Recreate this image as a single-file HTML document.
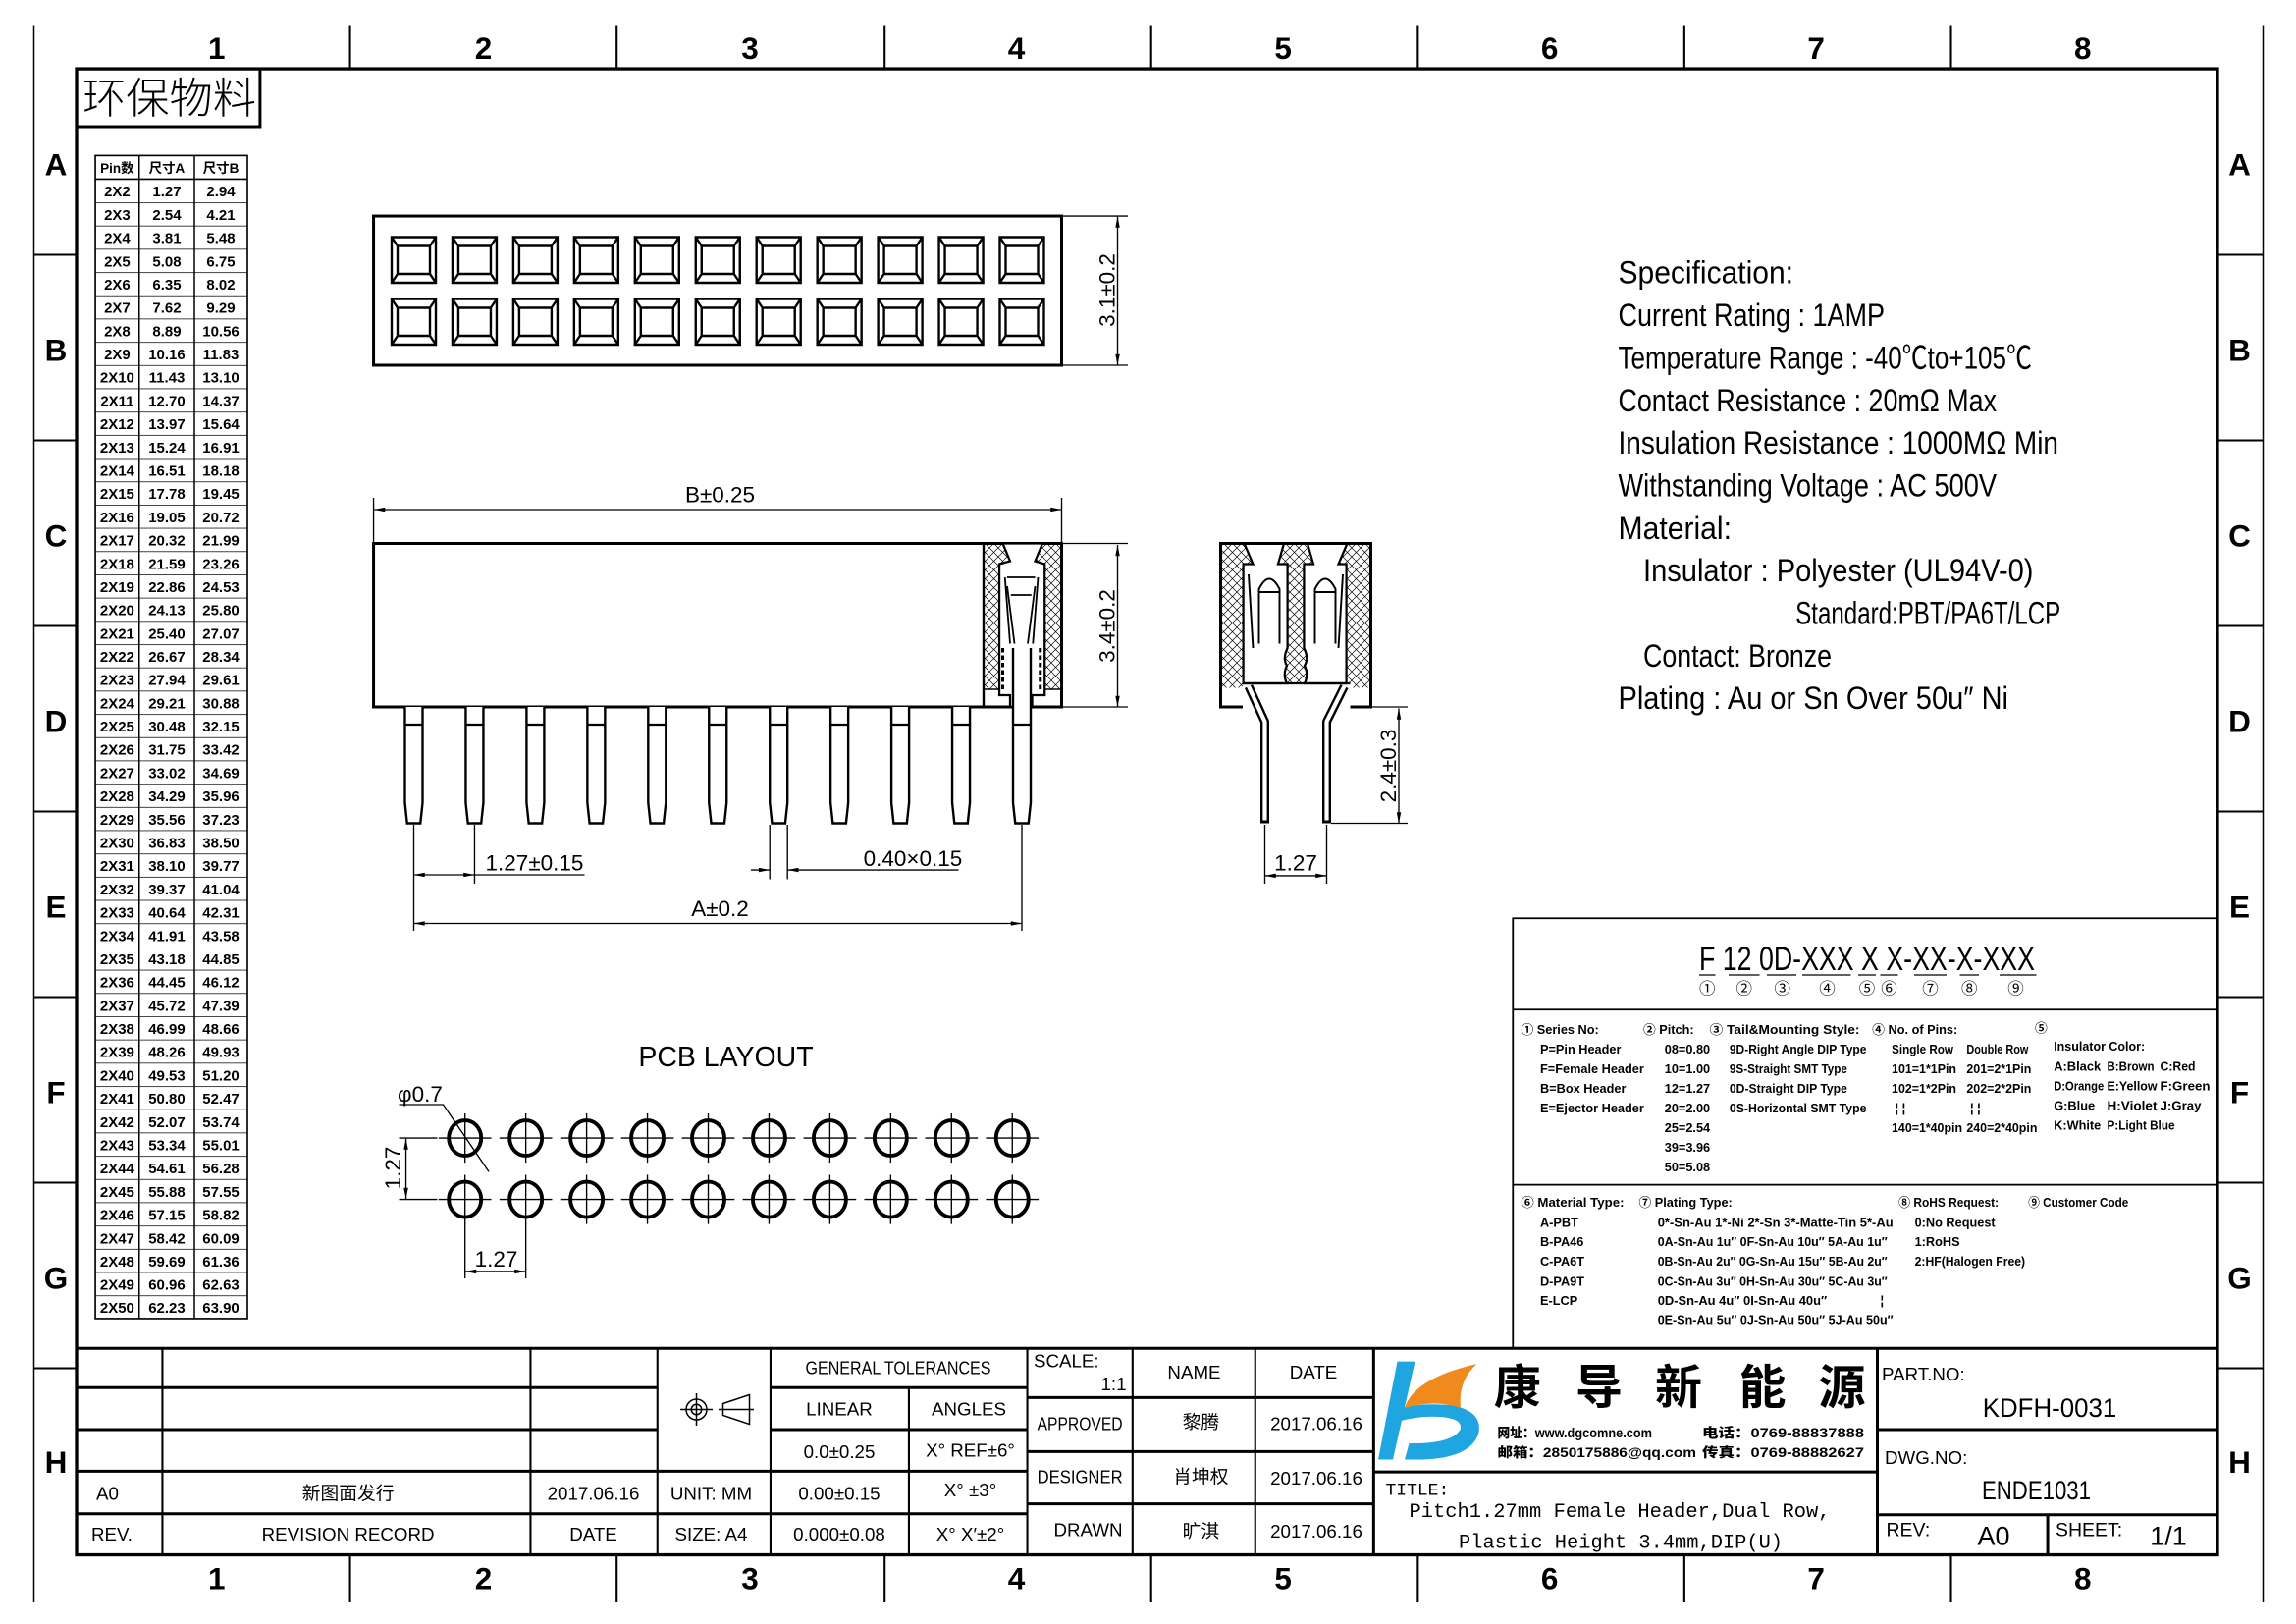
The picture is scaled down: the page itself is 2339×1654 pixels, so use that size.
<!DOCTYPE html>
<html><head><meta charset="utf-8">
<style>
html,body{margin:0;padding:0;background:#fff;}
svg{display:block;}
text{font-family:"Liberation Sans Narrow","Liberation Sans","Noto Sans CJK SC",sans-serif;fill:#000;}
.m{font-family:"Liberation Mono","Noto Sans CJK SC",monospace;}
</style></head><body>
<svg width="2339" height="1654" viewBox="0 0 1559.33 1102.67" xmlns="http://www.w3.org/2000/svg">
<defs>
<pattern id="h" width="6" height="6" patternUnits="userSpaceOnUse"><path d="M0 0L6 6M6 0L0 6" stroke="#000" stroke-width="0.45"/></pattern>
<pattern id="rows" x="0" y="121.6" width="200" height="15.79" patternUnits="userSpaceOnUse"><line x1="0" y1="0" x2="200" y2="0" stroke="#000" stroke-width="1"/></pattern>
<marker id="ar" viewBox="0 0 10 4" refX="10" refY="2" markerWidth="8" markerHeight="3" orient="auto-start-reverse" markerUnits="userSpaceOnUse"><path d="M0 0L10 2L0 4z" fill="#000"/></marker>
</defs>
<rect width="1559.33" height="1102.67" fill="#fff"/>

<rect x="52" y="46.7" width="1454" height="1009" fill="none" stroke="#000" stroke-width="2.2"/>
<line x1="23" y1="17" x2="23" y2="1088" stroke="#000" stroke-width="1"/>
<line x1="1537" y1="17" x2="1537" y2="1088" stroke="#000" stroke-width="1"/>
<g stroke="#000" stroke-width="1.4">
<line x1="237.7" y1="17" x2="237.7" y2="46.7"/><line x1="418.8" y1="17" x2="418.8" y2="46.7"/><line x1="600.8" y1="17" x2="600.8" y2="46.7"/><line x1="781.8" y1="17" x2="781.8" y2="46.7"/><line x1="962.9" y1="17" x2="962.9" y2="46.7"/><line x1="1143.9" y1="17" x2="1143.9" y2="46.7"/><line x1="1325" y1="17" x2="1325" y2="46.7"/>
<line x1="237.7" y1="1056" x2="237.7" y2="1088"/><line x1="418.8" y1="1056" x2="418.8" y2="1088"/><line x1="600.8" y1="1056" x2="600.8" y2="1088"/><line x1="781.8" y1="1056" x2="781.8" y2="1088"/><line x1="962.9" y1="1056" x2="962.9" y2="1088"/><line x1="1143.9" y1="1056" x2="1143.9" y2="1088"/><line x1="1325" y1="1056" x2="1325" y2="1088"/>
<line x1="23" y1="173" x2="52" y2="173"/><line x1="23" y1="299" x2="52" y2="299"/><line x1="23" y1="425" x2="52" y2="425"/><line x1="23" y1="551" x2="52" y2="551"/><line x1="23" y1="677" x2="52" y2="677"/><line x1="23" y1="803" x2="52" y2="803"/><line x1="23" y1="929" x2="52" y2="929"/>
<line x1="1506" y1="173" x2="1537" y2="173"/><line x1="1506" y1="299" x2="1537" y2="299"/><line x1="1506" y1="425" x2="1537" y2="425"/><line x1="1506" y1="551" x2="1537" y2="551"/><line x1="1506" y1="677" x2="1537" y2="677"/><line x1="1506" y1="803" x2="1537" y2="803"/><line x1="1506" y1="929" x2="1537" y2="929"/>
</g>
<g font-size="21" font-weight="bold" style="text-anchor:middle">
<text x="147.2" y="40">1</text><text x="328.3" y="40">2</text><text x="509.3" y="40">3</text><text x="690.3" y="40">4</text><text x="871.4" y="40">5</text><text x="1052.4" y="40">6</text><text x="1233.4" y="40">7</text><text x="1414.5" y="40">8</text>
<text x="147.2" y="1079">1</text><text x="328.3" y="1079">2</text><text x="509.3" y="1079">3</text><text x="690.3" y="1079">4</text><text x="871.4" y="1079">5</text><text x="1052.4" y="1079">6</text><text x="1233.4" y="1079">7</text><text x="1414.5" y="1079">8</text>
<text x="38" y="119">A</text><text x="38" y="245">B</text><text x="38" y="371">C</text><text x="38" y="497">D</text><text x="38" y="623">E</text><text x="38" y="749">F</text><text x="38" y="875">G</text><text x="38" y="1000">H</text>
<text x="1521" y="119">A</text><text x="1521" y="245">B</text><text x="1521" y="371">C</text><text x="1521" y="497">D</text><text x="1521" y="623">E</text><text x="1521" y="749">F</text><text x="1521" y="875">G</text><text x="1521" y="1000">H</text>
</g>

<rect x="52" y="46.7" width="124.6" height="39.3" fill="none" stroke="#000" stroke-width="2"/>
<text x="56" y="77" font-size="29" font-family="'Noto Sans CJK SC',sans-serif" font-weight="300" textLength="118" lengthAdjust="spacingAndGlyphs">环保物料</text>

<rect x="64.7" y="121.6" width="103.3" height="773.7" fill="url(#rows)"/>
<rect x="64.7" y="105.6" width="103.3" height="789.7" fill="none" stroke="#000" stroke-width="1.1"/>
<line x1="94.5" y1="105.6" x2="94.5" y2="895.3" stroke="#000"/>
<line x1="132" y1="105.6" x2="132" y2="895.3" stroke="#000"/>
<line x1="64.7" y1="121.6" x2="168" y2="121.6" stroke="#000"/>
<g font-size="10" style="text-anchor:middle" font-weight="bold">
<text x="79.6" y="117.5" font-size="9">Pin数</text><text x="113.3" y="117.5" font-size="9">尺寸A</text><text x="150" y="117.5" font-size="9">尺寸B</text>
<text x="79.6" y="133.5">2X2</text><text x="113.3" y="133.5">1.27</text><text x="150" y="133.5">2.94</text>
<text x="79.6" y="149.3">2X3</text><text x="113.3" y="149.3">2.54</text><text x="150" y="149.3">4.21</text>
<text x="79.6" y="165.1">2X4</text><text x="113.3" y="165.1">3.81</text><text x="150" y="165.1">5.48</text>
<text x="79.6" y="180.9">2X5</text><text x="113.3" y="180.9">5.08</text><text x="150" y="180.9">6.75</text>
<text x="79.6" y="196.7">2X6</text><text x="113.3" y="196.7">6.35</text><text x="150" y="196.7">8.02</text>
<text x="79.6" y="212.5">2X7</text><text x="113.3" y="212.5">7.62</text><text x="150" y="212.5">9.29</text>
<text x="79.6" y="228.2">2X8</text><text x="113.3" y="228.2">8.89</text><text x="150" y="228.2">10.56</text>
<text x="79.6" y="244.0">2X9</text><text x="113.3" y="244.0">10.16</text><text x="150" y="244.0">11.83</text>
<text x="79.6" y="259.8">2X10</text><text x="113.3" y="259.8">11.43</text><text x="150" y="259.8">13.10</text>
<text x="79.6" y="275.6">2X11</text><text x="113.3" y="275.6">12.70</text><text x="150" y="275.6">14.37</text>
<text x="79.6" y="291.4">2X12</text><text x="113.3" y="291.4">13.97</text><text x="150" y="291.4">15.64</text>
<text x="79.6" y="307.2">2X13</text><text x="113.3" y="307.2">15.24</text><text x="150" y="307.2">16.91</text>
<text x="79.6" y="323.0">2X14</text><text x="113.3" y="323.0">16.51</text><text x="150" y="323.0">18.18</text>
<text x="79.6" y="338.8">2X15</text><text x="113.3" y="338.8">17.78</text><text x="150" y="338.8">19.45</text>
<text x="79.6" y="354.6">2X16</text><text x="113.3" y="354.6">19.05</text><text x="150" y="354.6">20.72</text>
<text x="79.6" y="370.4">2X17</text><text x="113.3" y="370.4">20.32</text><text x="150" y="370.4">21.99</text>
<text x="79.6" y="386.2">2X18</text><text x="113.3" y="386.2">21.59</text><text x="150" y="386.2">23.26</text>
<text x="79.6" y="402.0">2X19</text><text x="113.3" y="402.0">22.86</text><text x="150" y="402.0">24.53</text>
<text x="79.6" y="417.8">2X20</text><text x="113.3" y="417.8">24.13</text><text x="150" y="417.8">25.80</text>
<text x="79.6" y="433.6">2X21</text><text x="113.3" y="433.6">25.40</text><text x="150" y="433.6">27.07</text>
<text x="79.6" y="449.3">2X22</text><text x="113.3" y="449.3">26.67</text><text x="150" y="449.3">28.34</text>
<text x="79.6" y="465.1">2X23</text><text x="113.3" y="465.1">27.94</text><text x="150" y="465.1">29.61</text>
<text x="79.6" y="480.9">2X24</text><text x="113.3" y="480.9">29.21</text><text x="150" y="480.9">30.88</text>
<text x="79.6" y="496.7">2X25</text><text x="113.3" y="496.7">30.48</text><text x="150" y="496.7">32.15</text>
<text x="79.6" y="512.5">2X26</text><text x="113.3" y="512.5">31.75</text><text x="150" y="512.5">33.42</text>
<text x="79.6" y="528.3">2X27</text><text x="113.3" y="528.3">33.02</text><text x="150" y="528.3">34.69</text>
<text x="79.6" y="544.1">2X28</text><text x="113.3" y="544.1">34.29</text><text x="150" y="544.1">35.96</text>
<text x="79.6" y="559.9">2X29</text><text x="113.3" y="559.9">35.56</text><text x="150" y="559.9">37.23</text>
<text x="79.6" y="575.7">2X30</text><text x="113.3" y="575.7">36.83</text><text x="150" y="575.7">38.50</text>
<text x="79.6" y="591.5">2X31</text><text x="113.3" y="591.5">38.10</text><text x="150" y="591.5">39.77</text>
<text x="79.6" y="607.3">2X32</text><text x="113.3" y="607.3">39.37</text><text x="150" y="607.3">41.04</text>
<text x="79.6" y="623.1">2X33</text><text x="113.3" y="623.1">40.64</text><text x="150" y="623.1">42.31</text>
<text x="79.6" y="638.9">2X34</text><text x="113.3" y="638.9">41.91</text><text x="150" y="638.9">43.58</text>
<text x="79.6" y="654.7">2X35</text><text x="113.3" y="654.7">43.18</text><text x="150" y="654.7">44.85</text>
<text x="79.6" y="670.4">2X36</text><text x="113.3" y="670.4">44.45</text><text x="150" y="670.4">46.12</text>
<text x="79.6" y="686.2">2X37</text><text x="113.3" y="686.2">45.72</text><text x="150" y="686.2">47.39</text>
<text x="79.6" y="702.0">2X38</text><text x="113.3" y="702.0">46.99</text><text x="150" y="702.0">48.66</text>
<text x="79.6" y="717.8">2X39</text><text x="113.3" y="717.8">48.26</text><text x="150" y="717.8">49.93</text>
<text x="79.6" y="733.6">2X40</text><text x="113.3" y="733.6">49.53</text><text x="150" y="733.6">51.20</text>
<text x="79.6" y="749.4">2X41</text><text x="113.3" y="749.4">50.80</text><text x="150" y="749.4">52.47</text>
<text x="79.6" y="765.2">2X42</text><text x="113.3" y="765.2">52.07</text><text x="150" y="765.2">53.74</text>
<text x="79.6" y="781.0">2X43</text><text x="113.3" y="781.0">53.34</text><text x="150" y="781.0">55.01</text>
<text x="79.6" y="796.8">2X44</text><text x="113.3" y="796.8">54.61</text><text x="150" y="796.8">56.28</text>
<text x="79.6" y="812.6">2X45</text><text x="113.3" y="812.6">55.88</text><text x="150" y="812.6">57.55</text>
<text x="79.6" y="828.4">2X46</text><text x="113.3" y="828.4">57.15</text><text x="150" y="828.4">58.82</text>
<text x="79.6" y="844.2">2X47</text><text x="113.3" y="844.2">58.42</text><text x="150" y="844.2">60.09</text>
<text x="79.6" y="860.0">2X48</text><text x="113.3" y="860.0">59.69</text><text x="150" y="860.0">61.36</text>
<text x="79.6" y="875.8">2X49</text><text x="113.3" y="875.8">60.96</text><text x="150" y="875.8">62.63</text>
<text x="79.6" y="891.5">2X50</text><text x="113.3" y="891.5">62.23</text><text x="150" y="891.5">63.90</text>
</g>

<rect x="253.7" y="146.7" width="467.3" height="101.3" fill="none" stroke="#000" stroke-width="2"/>
<g fill="none" stroke="#000" stroke-width="1.6">
<path id="s1" d="M266 161h30v31h-30zM270 167h22v19h-22zM266 161l4 6M296 161l-4 6M266 192l4-6M296 192l-4-6"/>
</g>
<g fill="none" stroke="#000" stroke-width="1.6">
<use href="#s1" x="41.3"/><use href="#s1" x="82.6"/><use href="#s1" x="123.9"/><use href="#s1" x="165.2"/><use href="#s1" x="206.5"/><use href="#s1" x="247.8"/><use href="#s1" x="289.1"/><use href="#s1" x="330.4"/><use href="#s1" x="371.7"/><use href="#s1" x="413"/>
<use href="#s1" y="42"/><use href="#s1" x="41.3" y="42"/><use href="#s1" x="82.6" y="42"/><use href="#s1" x="123.9" y="42"/><use href="#s1" x="165.2" y="42"/><use href="#s1" x="206.5" y="42"/><use href="#s1" x="247.8" y="42"/><use href="#s1" x="289.1" y="42"/><use href="#s1" x="330.4" y="42"/><use href="#s1" x="371.7" y="42"/><use href="#s1" x="413" y="42"/>
</g>
<g stroke="#000" stroke-width="0.9">
<line x1="722" y1="146.7" x2="766" y2="146.7"/><line x1="722" y1="248" x2="766" y2="248"/>
<line x1="759" y1="147" x2="759" y2="248" marker-start="url(#ar)" marker-end="url(#ar)"/>
</g>
<text transform="translate(757,197) rotate(-90)" font-size="15" style="text-anchor:middle">3.1±0.2</text>

<rect x="253.7" y="369" width="467.3" height="111" fill="none" stroke="#000" stroke-width="2"/>
<rect x="668" y="369" width="53" height="99" fill="url(#h)"/>
<path d="M681 369H708L703 381L709.5 383V472H701V480H686V472H678.7V383L686 381Z" fill="#fff" stroke="#000" stroke-width="1.5"/>
<line x1="668" y1="468" x2="678.7" y2="468" stroke="#000" stroke-width="1"/><line x1="709.5" y1="468" x2="721" y2="468" stroke="#000" stroke-width="1"/>
<line x1="668" y1="369" x2="668" y2="480" stroke="#000" stroke-width="1.6"/>
<path d="M682.5 392L686 437M705 392L701.5 437M684 392H703M686.5 404H700.5M684 398L689 437M703 398L698 437" fill="none" stroke="#000" stroke-width="1.2"/>
<path d="M681 440V468M706.5 440V468" stroke="#000" stroke-width="2" stroke-dasharray="3 2"/>
<g fill="#fff" stroke="#000" stroke-width="1.6">
<path id="p1" d="M275 480V545L276.5 559H285.5L287 545V480"/>
<use href="#p1" x="41.3"/><use href="#p1" x="82.6"/><use href="#p1" x="123.9"/><use href="#p1" x="165.2"/><use href="#p1" x="206.5"/><use href="#p1" x="247.8"/><use href="#p1" x="289.1"/><use href="#p1" x="330.4"/><use href="#p1" x="371.7"/>
<path d="M688 440V545L689.5 559H698.5L700 545V440"/>
</g>
<g stroke="#000" stroke-width="1.5">
<line x1="275" y1="492" x2="287" y2="492"/><line x1="316.3" y1="492" x2="328.3" y2="492"/><line x1="357.6" y1="492" x2="369.6" y2="492"/><line x1="398.9" y1="492" x2="410.9" y2="492"/><line x1="440.2" y1="492" x2="452.2" y2="492"/><line x1="481.5" y1="492" x2="493.5" y2="492"/><line x1="522.8" y1="492" x2="534.8" y2="492"/><line x1="564.1" y1="492" x2="576.1" y2="492"/><line x1="605.4" y1="492" x2="617.4" y2="492"/><line x1="646.7" y1="492" x2="658.7" y2="492"/><line x1="688" y1="492" x2="700" y2="492"/>
</g>
<g stroke="#000" stroke-width="0.9" fill="none">
<line x1="253.7" y1="338" x2="253.7" y2="369"/><line x1="721" y1="338" x2="721" y2="369"/>
<line x1="254" y1="346" x2="721" y2="346" marker-start="url(#ar)" marker-end="url(#ar)"/>
<line x1="722" y1="369" x2="766" y2="369"/><line x1="722" y1="480" x2="766" y2="480"/>
<line x1="759" y1="370" x2="759" y2="480" marker-start="url(#ar)" marker-end="url(#ar)"/>
<line x1="281" y1="560" x2="281" y2="632"/><line x1="322.3" y1="560" x2="322.3" y2="600"/>
<line x1="281" y1="594" x2="322.3" y2="594" marker-start="url(#ar)" marker-end="url(#ar)"/><line x1="322.3" y1="594" x2="397" y2="594"/>
<line x1="522.8" y1="560" x2="522.8" y2="597"/><line x1="534.8" y1="560" x2="534.8" y2="597"/>
<line x1="510" y1="590.7" x2="522.8" y2="590.7" marker-end="url(#ar)"/><line x1="651" y1="590.7" x2="534.8" y2="590.7" marker-end="url(#ar)"/>
<line x1="694" y1="560" x2="694" y2="632"/>
<line x1="281" y1="627" x2="694" y2="627" marker-start="url(#ar)" marker-end="url(#ar)"/>
</g>
<g font-size="15">
<text x="489" y="341" style="text-anchor:middle">B±0.25</text>
<text transform="translate(757,425) rotate(-90)" style="text-anchor:middle">3.4±0.2</text>
<text x="363" y="591" style="text-anchor:middle">1.27±0.15</text>
<text x="620" y="588" style="text-anchor:middle">0.40×0.15</text>
<text x="489" y="622" style="text-anchor:middle">A±0.2</text>
</g>

<rect x="829" y="369" width="102" height="98" fill="url(#h)"/>
<rect x="844" y="464" width="73" height="16" fill="#fff"/>
<path d="M845 369H872L868 383H874.4V440Q871 447 874 452Q871 458 874 464H844.4V383H851Z" fill="#fff" stroke="#000" stroke-width="1.5"/>
<path d="M888 369H915L909 383H914.4V464H886Q889 458 886 452Q889 447 885.6 440V383H892Z" fill="#fff" stroke="#000" stroke-width="1.5"/>
<path d="M844 480H829V369H931V480H917" fill="none" stroke="#000" stroke-width="2"/>
<line x1="844" y1="464" x2="917" y2="464" stroke="#000" stroke-width="1.5"/>
<path d="M855 437V400Q862 386 869 400V437M855 402H869M848 390L851 440M912 390L909 440" fill="none" stroke="#000" stroke-width="1.3"/>
<path d="M893 437V400Q900 386 907 400V437M893 402H907" fill="none" stroke="#000" stroke-width="1.3"/>
<path d="M848 466L859 490V559M913 466L901 490V559" fill="none" stroke="#000" stroke-width="6" stroke-linejoin="round"/>
<path d="M848 466L859 490V557M913 466L901 490V557" fill="none" stroke="#fff" stroke-width="2.8" stroke-linejoin="round"/>
<g stroke="#000" stroke-width="0.9" fill="none">
<line x1="932" y1="480" x2="956" y2="480"/><line x1="904" y1="559" x2="956" y2="559"/>
<line x1="950" y1="481" x2="950" y2="559" marker-start="url(#ar)" marker-end="url(#ar)"/>
<line x1="859" y1="560" x2="859" y2="600"/><line x1="901" y1="560" x2="901" y2="600"/>
<line x1="859" y1="594.6" x2="901" y2="594.6" marker-start="url(#ar)" marker-end="url(#ar)"/>
</g>
<text transform="translate(948,520) rotate(-90)" font-size="15" style="text-anchor:middle">2.4±0.3</text>
<text x="880" y="591" font-size="15" style="text-anchor:middle">1.27</text>

<text x="493" y="724" font-size="19" style="text-anchor:middle">PCB LAYOUT</text>
<g id="hole" fill="none" stroke="#000">
<ellipse cx="315.8" cy="772.7" rx="11" ry="12" stroke-width="2.6"/>
<path d="M297.9 772.7H333.7M315.8 756V789.4" stroke-width="0.9"/>
</g>
<g fill="none" stroke="#000">
<use href="#hole" x="41.3"/><use href="#hole" x="82.6"/><use href="#hole" x="123.9"/><use href="#hole" x="165.2"/><use href="#hole" x="206.5"/><use href="#hole" x="247.8"/><use href="#hole" x="289.1"/><use href="#hole" x="330.4"/><use href="#hole" x="371.7"/>
<use href="#hole" y="41.7"/><use href="#hole" x="41.3" y="41.7"/><use href="#hole" x="82.6" y="41.7"/><use href="#hole" x="123.9" y="41.7"/><use href="#hole" x="165.2" y="41.7"/><use href="#hole" x="206.5" y="41.7"/><use href="#hole" x="247.8" y="41.7"/><use href="#hole" x="289.1" y="41.7"/><use href="#hole" x="330.4" y="41.7"/><use href="#hole" x="371.7" y="41.7"/>
</g>
<g stroke="#000" stroke-width="0.9" fill="none">
<line x1="271" y1="772.7" x2="297" y2="772.7"/><line x1="271" y1="814.4" x2="297" y2="814.4"/>
<line x1="275.7" y1="773" x2="275.7" y2="814" marker-start="url(#ar)" marker-end="url(#ar)"/>
<line x1="315.8" y1="830" x2="315.8" y2="868"/><line x1="357.1" y1="830" x2="357.1" y2="868"/>
<line x1="316" y1="863.3" x2="357" y2="863.3" marker-start="url(#ar)" marker-end="url(#ar)"/>
<polyline points="271,750 301,750 332,795.6"/>
</g>
<text transform="translate(272,793) rotate(-90)" font-size="15" style="text-anchor:middle">1.27</text>
<text x="337" y="860" font-size="15" style="text-anchor:middle">1.27</text>
<text x="270" y="748" font-size="15">φ0.7</text>

<g font-size="21.5">
<text x="1099" y="192.5" textLength="119" lengthAdjust="spacingAndGlyphs">Specification:</text>
<text x="1099" y="221.4" textLength="181" lengthAdjust="spacingAndGlyphs">Current Rating : 1AMP</text>
<text x="1099" y="250.3" textLength="281" lengthAdjust="spacingAndGlyphs">Temperature Range : -40℃to+105℃</text>
<text x="1099" y="279.2" textLength="257" lengthAdjust="spacingAndGlyphs">Contact Resistance : 20mΩ Max</text>
<text x="1099" y="308.1" textLength="299" lengthAdjust="spacingAndGlyphs">Insulation Resistance : 1000MΩ Min</text>
<text x="1099" y="337" textLength="257" lengthAdjust="spacingAndGlyphs">Withstanding Voltage : AC 500V</text>
<text x="1099" y="365.9" textLength="77" lengthAdjust="spacingAndGlyphs">Material:</text>
<text x="1116" y="394.8" textLength="265" lengthAdjust="spacingAndGlyphs">Insulator : Polyester (UL94V-0)</text>
<text x="1219.5" y="423.7" textLength="180" lengthAdjust="spacingAndGlyphs">Standard:PBT/PA6T/LCP</text>
<text x="1116" y="452.6" textLength="128" lengthAdjust="spacingAndGlyphs">Contact: Bronze</text>
<text x="1099" y="481.5" textLength="265" lengthAdjust="spacingAndGlyphs">Plating : Au or Sn Over 50u″ Ni</text>
</g>

<path d="M1027.5 915.5V623.5H1506" fill="none" stroke="#000" stroke-width="1.2"/>
<line x1="1027.5" y1="685.5" x2="1506" y2="685.5" stroke="#000" stroke-width="1.2"/>
<line x1="1027.5" y1="804.4" x2="1506" y2="804.4" stroke="#000" stroke-width="1.2"/>
<text x="1154" y="658.7" font-size="23" textLength="228" lengthAdjust="spacingAndGlyphs">F 12 0D-XXX X X-XX-X-XXX</text>
<g stroke="#000" stroke-width="0.9">
<line x1="1154" y1="662" x2="1165" y2="662"/><line x1="1174" y1="662" x2="1195" y2="662"/><line x1="1200" y1="662" x2="1220" y2="662"/><line x1="1224" y1="662" x2="1257" y2="662"/><line x1="1262" y1="662" x2="1274" y2="662"/><line x1="1277" y1="662" x2="1289" y2="662"/><line x1="1300" y1="662" x2="1322" y2="662"/><line x1="1331" y1="662" x2="1344" y2="662"/><line x1="1358" y1="662" x2="1383" y2="662"/>
</g>
<g font-size="11" style="text-anchor:middle">
<text x="1159.5" y="675">①</text><text x="1184.5" y="675">②</text><text x="1210.5" y="675">③</text><text x="1241" y="675">④</text><text x="1268" y="675">⑤</text><text x="1283" y="675">⑥</text><text x="1311" y="675">⑦</text><text x="1337.5" y="675">⑧</text><text x="1369" y="675">⑨</text>
</g>
<g font-size="8.5" font-weight="bold">
<text x="1033" y="702">① Series No:</text>
<text x="1046" y="715.4">P=Pin Header</text><text x="1046" y="728.8">F=Female Header</text><text x="1046" y="742.1">B=Box Header</text><text x="1046" y="755.4">E=Ejector Header</text>
<text x="1116" y="702">② Pitch:</text>
<text x="1130.5" y="715.4">08=0.80</text><text x="1130.5" y="728.8">10=1.00</text><text x="1130.5" y="742.1">12=1.27</text><text x="1130.5" y="755.4">20=2.00</text><text x="1130.5" y="768.8">25=2.54</text><text x="1130.5" y="782.1">39=3.96</text><text x="1130.5" y="795.4">50=5.08</text>
<text x="1161" y="702" textLength="102" lengthAdjust="spacingAndGlyphs">③ Tail&amp;Mounting Style:</text>
<text x="1174.6" y="715.4" textLength="93" lengthAdjust="spacingAndGlyphs">9D-Right Angle DIP Type</text><text x="1174.6" y="728.8" textLength="80" lengthAdjust="spacingAndGlyphs">9S-Straight SMT Type</text><text x="1174.6" y="742.1" textLength="80" lengthAdjust="spacingAndGlyphs">0D-Straight DIP Type</text><text x="1174.6" y="755.4" textLength="93" lengthAdjust="spacingAndGlyphs">0S-Horizontal SMT Type</text>
<text x="1271.5" y="702">④ No. of Pins:</text>
<text x="1284.7" y="715.4" textLength="42" lengthAdjust="spacingAndGlyphs">Single Row</text><text x="1335.6" y="715.4" textLength="42" lengthAdjust="spacingAndGlyphs">Double Row</text>
<text x="1284.7" y="728.8" textLength="44" lengthAdjust="spacingAndGlyphs">101=1*1Pin</text><text x="1335.6" y="728.8" textLength="44" lengthAdjust="spacingAndGlyphs">201=2*1Pin</text>
<text x="1284.7" y="742.1" textLength="44" lengthAdjust="spacingAndGlyphs">102=1*2Pin</text><text x="1335.6" y="742.1" textLength="44" lengthAdjust="spacingAndGlyphs">202=2*2Pin</text>
<text x="1287" y="755.4">¦ ¦</text><text x="1338" y="755.4">¦ ¦</text>
<text x="1284.7" y="768.8" textLength="48" lengthAdjust="spacingAndGlyphs">140=1*40pin</text><text x="1335.6" y="768.8" textLength="48" lengthAdjust="spacingAndGlyphs">240=2*40pin</text>
<text x="1382" y="701">⑤</text>
<text x="1394.8" y="713.5" textLength="62" lengthAdjust="spacingAndGlyphs">Insulator Color:</text>
<text x="1394.8" y="727" textLength="32" lengthAdjust="spacingAndGlyphs">A:Black</text><text x="1431" y="727" textLength="32" lengthAdjust="spacingAndGlyphs">B:Brown</text><text x="1467" y="727" textLength="24" lengthAdjust="spacingAndGlyphs">C:Red</text>
<text x="1394.8" y="740.3" textLength="34" lengthAdjust="spacingAndGlyphs">D:Orange</text><text x="1431" y="740.3" textLength="34" lengthAdjust="spacingAndGlyphs">E:Yellow</text><text x="1467" y="740.3" textLength="34" lengthAdjust="spacingAndGlyphs">F:Green</text>
<text x="1394.8" y="753.6" textLength="28" lengthAdjust="spacingAndGlyphs">G:Blue</text><text x="1431" y="753.6" textLength="34" lengthAdjust="spacingAndGlyphs">H:Violet</text><text x="1467" y="753.6" textLength="28" lengthAdjust="spacingAndGlyphs">J:Gray</text>
<text x="1394.8" y="767" textLength="32" lengthAdjust="spacingAndGlyphs">K:White</text><text x="1431" y="767" textLength="46" lengthAdjust="spacingAndGlyphs">P:Light Blue</text>
<text x="1033" y="819.5" textLength="70" lengthAdjust="spacingAndGlyphs">⑥ Material Type:</text>
<text x="1046" y="833">A-PBT</text><text x="1046" y="846">B-PA46</text><text x="1046" y="859.5">C-PA6T</text><text x="1046" y="873">D-PA9T</text><text x="1046" y="886">E-LCP</text>
<text x="1113" y="819.5">⑦ Plating Type:</text>
<text x="1125.8" y="833" textLength="160" lengthAdjust="spacingAndGlyphs">0*-Sn-Au 1*-Ni 2*-Sn 3*-Matte-Tin 5*-Au</text>
<text x="1125.8" y="846" textLength="156" lengthAdjust="spacingAndGlyphs">0A-Sn-Au 1u″ 0F-Sn-Au 10u″  5A-Au 1u″</text>
<text x="1125.8" y="859.5" textLength="156" lengthAdjust="spacingAndGlyphs">0B-Sn-Au 2u″ 0G-Sn-Au 15u″  5B-Au 2u″</text>
<text x="1125.8" y="873" textLength="156" lengthAdjust="spacingAndGlyphs">0C-Sn-Au 3u″ 0H-Sn-Au 30u″  5C-Au 3u″</text>
<text x="1125.8" y="886" textLength="115" lengthAdjust="spacingAndGlyphs">0D-Sn-Au 4u″ 0I-Sn-Au 40u″</text><text x="1277" y="886">¦</text>
<text x="1125.8" y="899" textLength="160" lengthAdjust="spacingAndGlyphs">0E-Sn-Au 5u″ 0J-Sn-Au 50u″  5J-Au 50u″</text>
<text x="1289.4" y="819.5" textLength="68" lengthAdjust="spacingAndGlyphs">⑧ RoHS Request:</text>
<text x="1300.4" y="833">0:No Request</text><text x="1300.4" y="846">1:RoHS</text><text x="1300.4" y="859.5" textLength="75" lengthAdjust="spacingAndGlyphs">2:HF(Halogen Free)</text>
<text x="1377.5" y="819.5" textLength="68" lengthAdjust="spacingAndGlyphs">⑨ Customer Code</text>
</g>

<g stroke="#000" stroke-width="2" fill="none">
<line x1="52" y1="915.5" x2="1506" y2="915.5"/>
<line x1="52" y1="942.2" x2="446.5" y2="942.2"/><line x1="523.3" y1="942.2" x2="697.7" y2="942.2"/>
<line x1="52" y1="970.7" x2="446.5" y2="970.7"/><line x1="523.3" y1="970.7" x2="697.7" y2="970.7"/>
<line x1="52" y1="998.9" x2="697.7" y2="998.9"/>
<line x1="52" y1="1027.8" x2="697.7" y2="1027.8"/>
<line x1="697.7" y1="948.9" x2="932.9" y2="948.9"/><line x1="697.7" y1="985.6" x2="932.9" y2="985.6"/><line x1="697.7" y1="1021.1" x2="932.9" y2="1021.1"/>
<line x1="932.9" y1="999.4" x2="1275" y2="999.4"/>
<line x1="1275" y1="970.7" x2="1506" y2="970.7"/><line x1="1275" y1="1028.5" x2="1506" y2="1028.5"/>
</g>
<g stroke="#000" stroke-width="1.4" fill="none">
<line x1="110.3" y1="915.5" x2="110.3" y2="1055.6"/><line x1="360.3" y1="915.5" x2="360.3" y2="1055.6"/><line x1="446.5" y1="915.5" x2="446.5" y2="1055.6"/>
<line x1="523.3" y1="915.5" x2="523.3" y2="1055.6"/><line x1="617.3" y1="942.2" x2="617.3" y2="1055.6"/>
<line x1="697.7" y1="915.5" x2="697.7" y2="1055.6"/><line x1="769.2" y1="915.5" x2="769.2" y2="1055.6"/><line x1="852.5" y1="915.5" x2="852.5" y2="1055.6"/>
</g>
<g stroke="#000" stroke-width="2" fill="none">
<line x1="932.9" y1="915.5" x2="932.9" y2="1055.6"/><line x1="1275" y1="915.5" x2="1275" y2="1055.6"/><line x1="1390.7" y1="1028.5" x2="1390.7" y2="1055.6"/>
</g>
<g stroke="#000" stroke-width="1" fill="none">
<circle cx="473" cy="957" r="7"/><circle cx="473" cy="957" r="3.5"/><path d="M462 957H484M473 946V968"/>
<path d="M491 953L509 947V967L491 961Z M488 957H512"/>
</g>
<g font-size="12.5" style="text-anchor:middle">
<text x="610" y="933" textLength="126" lengthAdjust="spacingAndGlyphs">GENERAL TOLERANCES</text>
<text x="570" y="961">LINEAR</text><text x="658" y="961">ANGLES</text>
<text x="570" y="990">0.0±0.25</text><text x="659" y="989">X° REF±6°</text>
<text x="570" y="1018.5">0.00±0.15</text><text x="659" y="1016">X° ±3°</text>
<text x="570" y="1046">0.000±0.08</text><text x="659" y="1046">X° X′±2°</text>
<text x="483" y="1018.5">UNIT: MM</text><text x="483" y="1046">SIZE: A4</text>
<text x="403" y="1018.5">2017.06.16</text><text x="403" y="1046">DATE</text>
<text x="236.4" y="1018.5">新图面发行</text><text x="236.4" y="1046">REVISION RECORD</text>
<text x="73" y="1018.5">A0</text><text x="76" y="1046">REV.</text>
<text x="811" y="936">NAME</text><text x="892" y="936">DATE</text>
<text x="733.4" y="971" textLength="58" lengthAdjust="spacingAndGlyphs">APPROVED</text><text x="815.6" y="970">黎腾</text><text x="894" y="971">2017.06.16</text>
<text x="733.4" y="1007" textLength="58" lengthAdjust="spacingAndGlyphs">DESIGNER</text><text x="815.6" y="1007">肖坤权</text><text x="894" y="1008">2017.06.16</text>
<text x="739" y="1043">DRAWN</text><text x="815.6" y="1044">旷淇</text><text x="894" y="1044">2017.06.16</text>
</g>
<text x="702" y="928.5" font-size="12.5">SCALE:</text>
<text x="765" y="944" font-size="12.5" style="text-anchor:end">1:1</text>

<path d="M949 924.4H961L946 991H936Z" fill="#1fa5e0"/>
<path d="M947 958Q960 952 985 954Q1008 958 1004 974Q998 990 966 991H954L957 980H964Q988 979 992 970Q993 963 978 962Q965 961 950 965Z" fill="#1fa5e0"/>
<path d="M954 956Q960 936 1003 926Q990 938 992 956Q975 950 954 956Z" fill="#f08a1c"/>
<g font-family="'Noto Sans CJK SC',sans-serif" font-size="32" font-weight="bold" style="text-anchor:middle">
<text x="1030.5" y="953">康</text><text x="1086" y="953">导</text><text x="1140" y="953">新</text><text x="1197" y="953">能</text><text x="1251" y="953">源</text>
</g>
<g font-size="9" font-weight="900" font-family="'Liberation Sans','Noto Sans CJK SC',sans-serif">
<text x="1017" y="976" textLength="105" lengthAdjust="spacingAndGlyphs">网址：www.dgcomne.com</text><text x="1156" y="976" textLength="110" lengthAdjust="spacingAndGlyphs">电话：0769-88837888</text>
<text x="1017" y="989.5" textLength="135" lengthAdjust="spacingAndGlyphs">邮箱：2850175886@qq.com</text><text x="1156" y="989.5" textLength="110" lengthAdjust="spacingAndGlyphs">传真：0769-88882627</text>
</g>
<text x="941" y="1015" font-size="12" class="m">TITLE:</text>
<text x="957" y="1030" font-size="13.5" class="m" textLength="286" lengthAdjust="spacingAndGlyphs">Pitch1.27mm Female Header,Dual Row,</text>
<text x="990.7" y="1051" font-size="13.5" class="m" textLength="220" lengthAdjust="spacingAndGlyphs">Plastic Height 3.4mm,DIP(U)</text>
<text x="1278" y="937.5" font-size="12.5">PART.NO:</text>
<text x="1392" y="962" font-size="18" style="text-anchor:middle" textLength="91" lengthAdjust="spacingAndGlyphs">KDFH-0031</text>
<text x="1280" y="994" font-size="12.5">DWG.NO:</text>
<text x="1383" y="1018" font-size="18" style="text-anchor:middle" textLength="74" lengthAdjust="spacingAndGlyphs">ENDE1031</text>
<text x="1281" y="1043" font-size="13">REV:</text>
<text x="1354" y="1049" font-size="18" style="text-anchor:middle">A0</text>
<text x="1396" y="1043" font-size="13">SHEET:</text>
<text x="1472.7" y="1049" font-size="18" style="text-anchor:middle">1/1</text>
</svg>
</body></html>
